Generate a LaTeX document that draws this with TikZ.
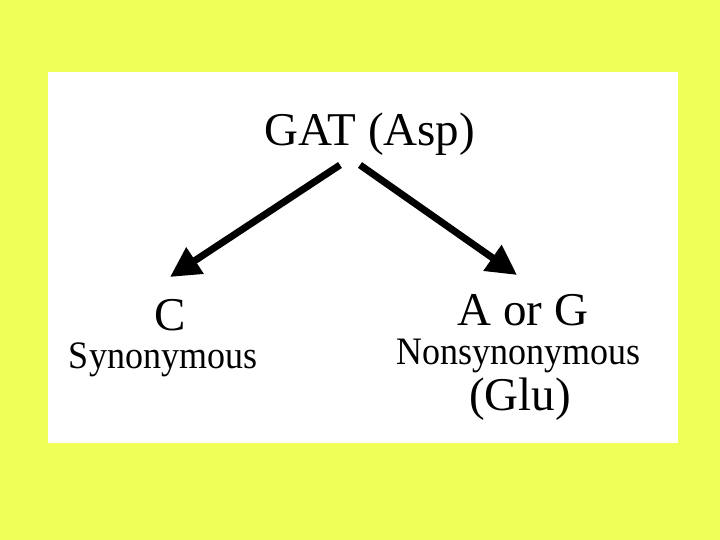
\documentclass[tikz,border=0pt]{standalone}
\usepackage{fontspec}
\setmainfont{Liberation Serif}
\usetikzlibrary{arrows.meta}
\definecolor{bgyellow}{RGB}{238,255,88}
\tikzset{
  big/.style={anchor=base,inner sep=0pt,font=\fontsize{47}{50}\selectfont},
  small/.style={anchor=base,inner sep=0pt,yscale=1.08,font=\fontsize{36}{40}\selectfont},
  arr/.style={line width=7pt,-{Triangle[length=30pt,width=30pt]}}
}
\begin{document}
\begin{tikzpicture}[x=1pt,y=1pt]
\fill[bgyellow] (0,0) rectangle (720,540);
\useasboundingbox (0,0) rectangle (720,540);
\fill[white] (48,97) rectangle (678,468);
\node[big] (gat) at (370,394) {GAT (Asp)};
\node[big] (c) at (170,209) {C};
\node[small] (syn) at (163,171) {Synonymous};
\node[big] (aorg) at (523,214) {A or G};
\node[small] (non) at (519,175) {Nonsynonymous};
\node[big] (glu) at (520,129) {(Glu)};
\coordinate (s1) at (340,375);
\coordinate (t1) at (170,263);
\coordinate (s2) at (360,375);
\coordinate (t2) at (517,265);
\draw[arr] (s1) -- (t1);
\draw[arr] (s2) -- (t2);
\end{tikzpicture}
\end{document}
